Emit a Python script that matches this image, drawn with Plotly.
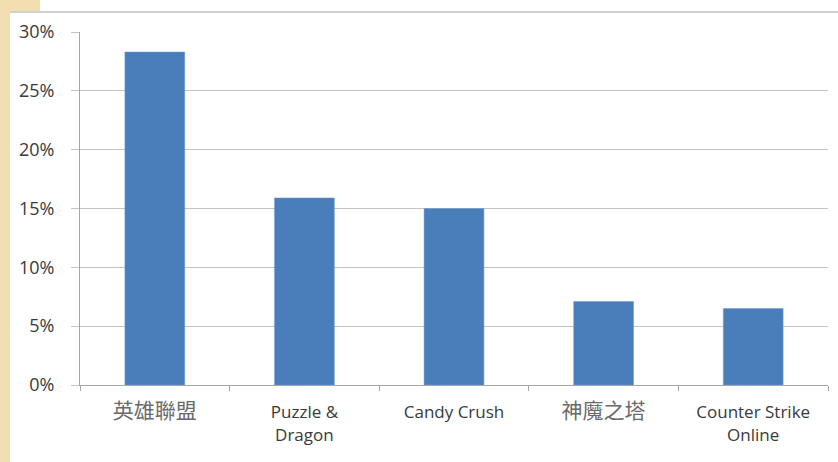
import plotly.graph_objects as go

categories = ['<span style="font-size:21px;color:#6a6a6a">英雄聯盟</span>', "Puzzle &<br>Dragon", "Candy Crush",
              '<span style="font-size:21px;color:#6a6a6a">神魔之塔</span>', "Counter Strike<br>Online"]
values = [0.283, 0.159, 0.150, 0.071, 0.065]
y_ticks = [0, 0.05, 0.10, 0.15, 0.20, 0.25, 0.30]
y_tick_labels = ["0%", "5%", "10%", "15%", "20%", "25%", "30%"]

W, H = 838, 462
ml, mr, mt, mb = 80, 10, 32, 77
pw, ph = W - ml - mr, H - mt - mb

def px_x(px):
    return (px - ml) / pw

def px_y(py):
    return (H - mb - py) / ph

fig = go.Figure(go.Bar(
    x=categories, y=values,
    marker=dict(color="#4a7ebb", line=dict(color="#6a9ad4", width=0.5)),
    width=0.4,
))

shapes = [
    dict(type="rect", xref="paper", yref="paper", x0=px_x(0), x1=px_x(10), y0=px_y(H), y1=px_y(0),
         fillcolor="#f1dfb2", line=dict(width=0), layer="below"),
    dict(type="rect", xref="paper", yref="paper", x0=px_x(0), x1=px_x(40), y0=px_y(12), y1=px_y(0),
         fillcolor="#f1dfb2", line=dict(width=0), layer="below"),
    dict(type="line", xref="paper", yref="paper", x0=px_x(10), x1=px_x(W), y0=px_y(12), y1=px_y(12),
         line=dict(color="#d0d0d0", width=2)),
]

fig.update_layout(
    width=W, height=H,
    margin=dict(l=ml, r=mr, t=mt, b=mb),
    paper_bgcolor="white", plot_bgcolor="white",
    font=dict(family="Open Sans, Noto Sans CJK TC, sans-serif", size=17, color="#3a3a3a"),
    showlegend=False,
    shapes=shapes,
    xaxis=dict(
        showgrid=False, showline=True, linecolor="#a6a6a6", linewidth=1,
        ticks="outside", tickson="boundaries", ticklen=5, tickcolor="#a6a6a6",
        ticklabelstandoff=12,
        tickfont=dict(size=17, color="#3a3a3a"),
    ),
    yaxis=dict(
        range=[0, 0.30], tickvals=y_ticks, ticktext=y_tick_labels,
        showgrid=True, gridcolor="#c4c4c4", gridwidth=1.3,
        showline=True, linecolor="#a6a6a6", linewidth=1,
        ticks="outside", ticklen=8, tickcolor="#c4c4c4",
        ticklabelstandoff=13,
        zeroline=False,
        tickfont=dict(size=18, color="#3a3a3a"),
    ),
)

fig.write_html("out.html", config={"displayModeBar": False},
               post_script="document.body.style.margin='0';document.body.style.overflow='hidden';")
